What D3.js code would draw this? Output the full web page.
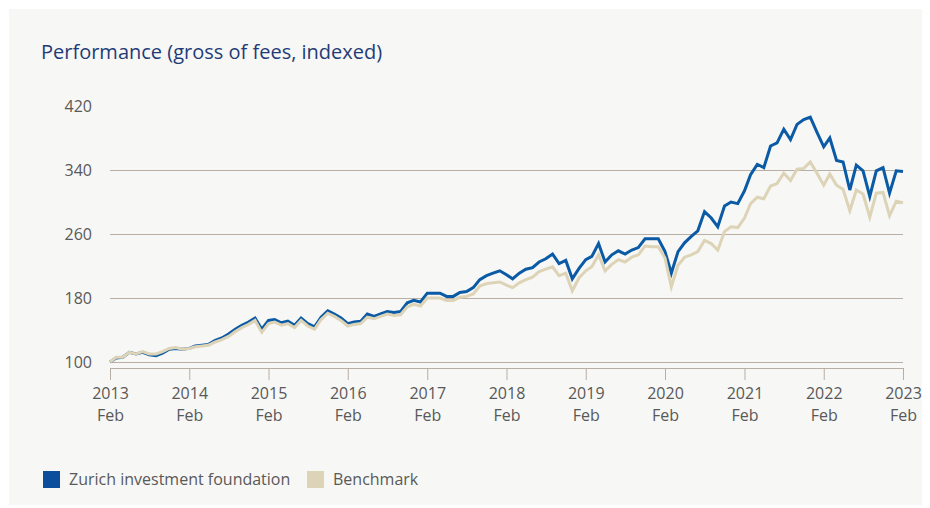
<!DOCTYPE html>
<html>
<head>
<meta charset="utf-8">
<script src="https://cdn.jsdelivr.net/npm/d3@7"></script>
<style>
  html, body { margin: 0; padding: 0; background: #ffffff; }
  svg { display: block; font-family: "Open Sans", "Noto Sans", sans-serif; }
</style>
</head>
<body>
<svg id="chart" width="930" height="508"></svg>
<script>
// Monthly index values, Feb 2013 = 100, through Feb 2023
const startYear = 2013;
const startMonth = 1; // February (0-based)

const fund = [
  100, 105, 106, 112, 110, 112, 109, 108, 111, 116, 117, 116,
  117, 120, 121, 122, 127, 130, 135, 141, 146, 150, 155, 141,
  152, 153, 149, 151, 146, 155, 148, 144, 156, 164, 160, 155,
  148, 150, 151, 160, 157, 160, 163, 162, 163, 174, 177, 175,
  186, 186, 186, 182, 182, 187, 188, 193, 203, 208, 211, 214,
  209, 204, 211, 216, 218, 225, 229, 235, 223, 227, 204, 217,
  228, 232, 248, 225, 234, 239, 235, 240, 243, 254, 254, 254,
  238, 211, 238, 249, 257, 264, 288, 280, 269, 295, 300, 298,
  314, 334, 347, 343, 370, 374, 391, 378, 397, 403, 406, 387,
  369, 380, 352, 350, 315, 346, 339, 307, 339, 343, 311, 339,
  338
];

const benchmark = [
  100, 106, 106, 112, 110, 113, 110, 110, 113, 117, 118, 116,
  117, 119, 120, 121, 125, 128, 132, 138, 143, 147, 152, 137,
  148, 150, 146, 148, 143, 152, 145, 141, 153, 161, 157, 152,
  145, 147, 148, 156, 154, 157, 160, 158, 159, 169, 172, 170,
  180, 180, 180, 177, 177, 181, 182, 185, 195, 198, 199, 200,
  196, 193, 199, 203, 206, 213, 216, 219, 208, 211, 189, 205,
  214, 219, 234, 214, 222, 228, 225, 231, 234, 245, 244, 244,
  230, 194, 221, 231, 234, 238, 252, 248, 240, 263, 269, 268,
  280, 298, 306, 304, 320, 323, 336, 327, 341, 342, 350, 336,
  321, 335, 321, 316, 289, 315, 310, 281, 311, 312, 283, 301,
  299
];

const yTicks = [100, 180, 260, 340, 420];
const gridValues = [100, 180, 260, 340];
const tickYears = [2013, 2014, 2015, 2016, 2017, 2018, 2019, 2020, 2021, 2022, 2023];
const tickMonthLabel = "Feb";

const seriesNames = ["Zurich investment foundation", "Benchmark"];
const titleText = "Performance (gross of fees, indexed)";

const colors = { fund: "#0a5aa6", fundKey: "#0a4e9c", bench: "#ddd3b6",
                 grid: "#b9aea4", text: "#595959", title: "#1f3c78", panel: "#f7f7f5" };

const months = fund.map((_, i) => new Date(Date.UTC(startYear, startMonth + i, 1)));

const svg = d3.select("#chart");

// panel
svg.append("rect").attr("x", 9).attr("y", 9).attr("width", 913).attr("height", 496)
  .attr("fill", colors.panel);

// title
svg.append("text").attr("x", 41).attr("y", 59)
  .attr("font-size", 20).attr("fill", colors.title).text(titleText);

const x = d3.scaleUtc()
  .domain([months[0], months[months.length - 1]])
  .range([110, 903]);

const y = d3.scaleLinear().domain([100, 420]).range([362, 106]);

// horizontal gridlines
svg.append("g").selectAll("line").data(gridValues).join("line")
  .attr("x1", 110).attr("x2", 903)
  .attr("y1", d => y(d)).attr("y2", d => y(d))
  .attr("stroke", colors.grid).attr("stroke-width", 1).attr("shape-rendering", "crispEdges");

// y axis labels
const yAxis = d3.axisLeft(y).tickValues(yTicks).tickSize(0).tickPadding(0);
const gy = svg.append("g").attr("transform", "translate(92,0)").call(yAxis);
gy.select(".domain").remove();
gy.selectAll("text").attr("font-size", 16).attr("fill", colors.text)
  .attr("font-family", "'Open Sans', sans-serif");

// x axis
const tickDates = tickYears.map(yr => new Date(Date.UTC(yr, startMonth, 1)));
const xAxis = d3.axisBottom(x).tickValues(tickDates).tickSize(12).tickFormat("");
const gx = svg.append("g").attr("transform", "translate(0,368)").call(xAxis);
gx.select(".domain").attr("d", "M110,0.5H903").attr("stroke", colors.grid);
gx.selectAll(".tick line").attr("stroke", colors.grid);
const lab = gx.selectAll(".tick").append("text")
  .attr("fill", colors.text).attr("font-size", 16).attr("text-anchor", "middle")
  .attr("font-family", "'Open Sans', sans-serif");
lab.append("tspan").attr("x", 0).attr("y", 31).text((d) => d.getUTCFullYear());
lab.append("tspan").attr("x", 0).attr("y", 53).text(tickMonthLabel);

// series lines
const line = d3.line().x((d, i) => x(months[i])).y(d => y(d)).curve(d3.curveLinear);

svg.append("path").datum(fund).attr("d", line)
  .attr("fill", "none").attr("stroke", colors.fund).attr("stroke-width", 3)
  .attr("stroke-linejoin", "miter");
svg.append("path").datum(benchmark).attr("d", line)
  .attr("fill", "none").attr("stroke", colors.bench).attr("stroke-width", 3)
  .attr("stroke-linejoin", "miter");

// legend
const legend = [
  { name: seriesNames[0], color: colors.fundKey, x: 43 },
  { name: seriesNames[1], color: colors.bench, x: 307 }
];
const lg = svg.append("g").selectAll("g").data(legend).join("g")
  .attr("transform", d => `translate(${d.x},471)`);
lg.append("rect").attr("width", 17).attr("height", 17).attr("fill", d => d.color);
lg.append("text").attr("x", 26).attr("y", 8.5).attr("dy", "0.35em")
  .attr("font-size", 16).attr("fill", colors.text).text(d => d.name);
</script>
</body>
</html>
